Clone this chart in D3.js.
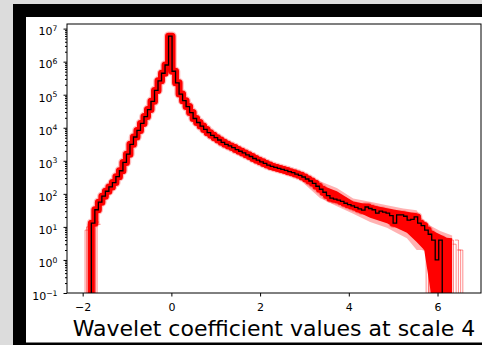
<!DOCTYPE html>
<html>
<head>
<meta charset="utf-8">
<script src="https://cdn.jsdelivr.net/npm/d3@7"></script>
<style>
  body { margin: 0; background: #dcdcdc; }
  svg { display: block; }
  text { font-family: "DejaVu Sans", sans-serif; }
</style>
</head>
<body>
<svg id="chart" width="482" height="345"></svg>
<script>
// Histogram of wavelet coefficients (scale 4): bin range and counts of the reference sample
const binRange = [-1.804, 6.106];
const counts = [
  13, 33, 56, 85, 120, 162, 219, 331, 501, 891,
  1585, 3162, 5248, 8318, 13490, 21878, 35481, 63096, 134896, 263027,
  446684, 794328, 5888437, 512861, 229087, 104713, 66069, 43652, 28840, 19055,
  14454, 11220, 8913, 7079, 5888, 5012, 4266, 3631, 3162, 2818,
  2512, 2188, 1950, 1738, 1514, 1349, 1175, 1047, 933, 832,
  741, 676, 631, 589, 550, 513, 468, 437, 398, 363,
  324, 282, 245, 209, 170, 138, 112, 89, 74, 69,
  65, 59, 52, 47, 43, 39, 35, 32, 40, 36,
  33, 26, 30, 28, 26, 22, 13, 23, 23, 21,
  16, 17, 20, 13, 11, 8, 6, 4, 1, 4
];

// Spread of the simulated histograms in the upper tail (solid core and faint fringe)
const coreUpX = [3.35, 3.73, 4.10, 4.48, 4.86, 5.23, 5.53, 5.61, 5.83, 6.06, 6.21, 6.33];
const coreUpY = [190, 120, 59, 47, 37, 30, 26, 15, 8.3, 5.9, 4.7, 4.5];
const coreLoX = [3.35, 3.73, 4.10, 4.48, 4.86, 5.08, 5.31, 5.53, 5.70, 5.85, 6.33];
const coreLoY = [95, 54, 33, 19, 13, 9.3, 6.6, 3.5, 2, 0.01, 0.01];

const fringeUpX = [3.0, 3.35, 3.73, 4.10, 4.48, 4.86, 5.23, 5.53, 5.61, 5.83, 6.06, 6.33];
const fringeUpY = [330, 240, 150, 72, 58, 45, 36, 32, 20, 11, 7.5, 5.5];
const fringeLoX = [3.0, 3.35, 3.73, 4.10, 4.48, 4.86, 5.08, 5.31, 5.53, 5.78, 5.78, 6.33];
const fringeLoY = [200, 75, 42, 25, 14, 9.5, 6.5, 4.5, 2, 2, 0.01, 0.01];

// Last bins of individual simulated histograms: [edge, count]
const rightEnds = [[5.743, 2], [5.80, 2], [5.856, 3], [5.90, 5], [6.36, 4], [6.419, 3], [6.471, 4], [6.521, 2], [6.570, 2]];
const leftStarts = [[-1.946, 8], [-1.912, 10], [-1.878, 12], [-1.709, 14], [-1.675, 12]];

const xTicks = [-2, 0, 2, 4, 6];
const yExponents = [-1, 0, 1, 2, 3, 4, 5, 6, 7];
const xLabel = "Wavelet coefficient values at scale 4";

const svg = d3.select("#chart");

// figure window frame
svg.append("rect").attr("x", 13).attr("y", 4).attr("width", 469).attr("height", 341).attr("fill", "#000");
svg.append("rect").attr("x", 26).attr("y", 17).attr("width", 456).attr("height", 325.5).attr("fill", "#fff");

const plot = { left: 67, right: 481, top: 24, bottom: 293 };
const x = d3.scaleLinear().domain([-2.353, 6.98]).range([plot.left, plot.right]);
const y = d3.scaleLog().domain([0.1, 1.38e7]).range([plot.bottom, plot.top]).clamp(true);

svg.append("clipPath").attr("id", "clip")
  .append("rect").attr("x", plot.left).attr("y", plot.top)
  .attr("width", plot.right - plot.left).attr("height", plot.bottom - plot.top);
const g = svg.append("g").attr("clip-path", "url(#clip)");

const nb = counts.length;
const bw = (binRange[1] - binRange[0]) / nb;
const edges = d3.range(nb + 1).map(i => binRange[0] + i * bw);
const yv = c => y(Math.max(c, 0.01));

// step outline of the histogram
const stepPts = [[edges[0], 0.01]];
counts.forEach((c, i) => { stepPts.push([edges[i], c]); stepPts.push([edges[i + 1], c]); });
stepPts.push([edges[nb], 0.01]);
const line = d3.line().x(d => x(d[0])).y(d => yv(d[1]));

// red band of simulated histograms
g.append("path").attr("d", line(stepPts)).attr("fill", "none")
  .attr("stroke", "red").attr("stroke-opacity", 0.25).attr("stroke-width", 9.5)
  .attr("stroke-linejoin", "round");
g.append("path").attr("d", line(stepPts)).attr("fill", "none")
  .attr("stroke", "red").attr("stroke-width", 7).attr("stroke-linejoin", "round");

const poly = (ux, uy, lx, ly) => {
  const pts = ux.map((v, i) => [v, uy[i]]);
  for (let i = lx.length - 1; i >= 0; i--) pts.push([lx[i], ly[i]]);
  return line(pts) + "Z";
};
g.append("path").attr("d", poly(fringeUpX, fringeUpY, fringeLoX, fringeLoY))
  .attr("fill", "red").attr("fill-opacity", 0.3);
g.append("path").attr("d", poly(coreUpX, coreUpY, coreLoX, coreLoY))
  .attr("fill", "red");

rightEnds.forEach(([e, c]) => {
  g.append("path")
    .attr("d", `M${x(e - bw)},${yv(c)}H${x(e)}V${plot.bottom}`)
    .attr("fill", "none").attr("stroke", "red").attr("stroke-opacity", 0.45).attr("stroke-width", 1);
});
leftStarts.forEach(([e, c]) => {
  g.append("path")
    .attr("d", `M${x(e)},${plot.bottom}V${yv(c)}H${x(e + bw)}`)
    .attr("fill", "none").attr("stroke", "red").attr("stroke-opacity", 0.45).attr("stroke-width", 1);
});

// reference histogram
g.append("path").attr("d", line(stepPts)).attr("fill", "none")
  .attr("stroke", "#000").attr("stroke-width", 1.3);

// axes frame
svg.append("rect").attr("x", plot.left).attr("y", plot.top)
  .attr("width", plot.right - plot.left).attr("height", plot.bottom - plot.top)
  .attr("fill", "none").attr("stroke", "#000").attr("stroke-width", 1);

// x axis
const gx = svg.append("g").attr("transform", `translate(0,${plot.bottom})`)
  .call(d3.axisBottom(x).tickValues(xTicks).tickSize(3.5).tickPadding(6.5)
    .tickFormat(d => d < 0 ? "\u2212" + Math.abs(d) : String(d)));
gx.select(".domain").remove();
gx.selectAll("text").attr("font-size", 11).attr("font-family", "DejaVu Sans").attr("fill", "#000");

// y axis: major and minor log ticks
const majors = yExponents.map(k => Math.pow(10, k));
const minors = [];
yExponents.slice(0, -1).forEach(k => { for (let m = 2; m <= 9; m++) minors.push(m * Math.pow(10, k)); });
minors.push(...[2, 3, 4, 5, 6, 7, 8, 9].map(m => m * 1e7).filter(v => v <= 1.38e7));
const gyMinor = svg.append("g").attr("transform", `translate(${plot.left},0)`)
  .call(d3.axisLeft(y).tickValues(minors).tickSize(2).tickFormat(""));
gyMinor.select(".domain").remove();
const gy = svg.append("g").attr("transform", `translate(${plot.left},0)`)
  .call(d3.axisLeft(y).tickValues(majors).tickSize(3.5).tickFormat(""));
gy.select(".domain").remove();
gy.selectAll(".tick").each(function (d) {
  const k = Math.round(Math.log10(d));
  const t = d3.select(this).append("text")
    .attr("x", -9.5).attr("y", 6.3).attr("text-anchor", "end")
    .attr("fill", "#000").attr("font-size", 11).attr("font-family", "DejaVu Sans");
  t.append("tspan").text("10");
  t.append("tspan").attr("dy", -4.2).attr("font-size", 7.7)
    .text(k < 0 ? "\u2212" + Math.abs(k) : String(k));
});

// x axis title
svg.append("text").attr("x", (plot.left + plot.right) / 2).attr("y", 336)
  .attr("text-anchor", "middle").attr("font-size", 22).attr("fill", "#000")
  .text(xLabel);
</script>
</body>
</html>
